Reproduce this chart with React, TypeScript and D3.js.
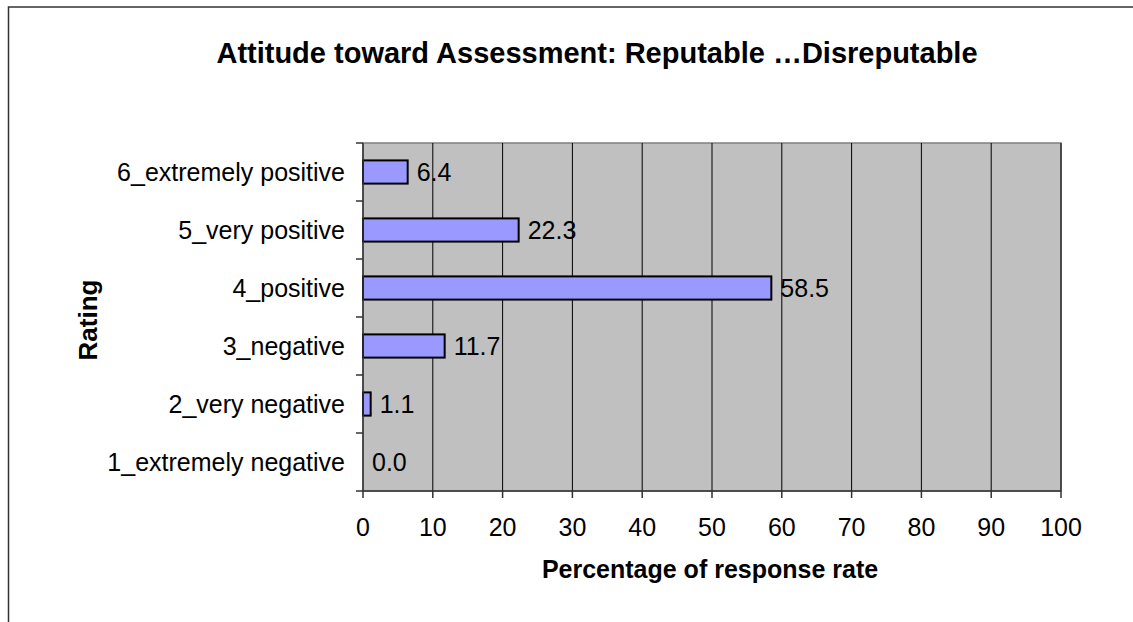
import React from "react";
import * as d3 from "d3";

const categories = [
  "6_extremely positive",
  "5_very positive",
  "4_positive",
  "3_negative",
  "2_very negative",
  "1_extremely negative",
];
const values = [6.4, 22.3, 58.5, 11.7, 1.1, 0.0];
const xTicks = [0, 10, 20, 30, 40, 50, 60, 70, 80, 90, 100];
const title = "Attitude toward Assessment: Reputable \u2026Disreputable";
const xTitle = "Percentage of response rate";
const yTitle = "Rating";

const W = 1133;
const H = 622;
const plot = { left: 363, right: 1061, top: 143, bottom: 491 };
const FONT = "'Liberation Sans', Arial, sans-serif";

export default function App() {
  const x = d3.scaleLinear().domain([0, 100]).range([plot.left, plot.right]);
  const y = d3
    .scaleBand<string>()
    .domain(categories)
    .range([plot.top, plot.bottom])
    .paddingInner(0.6)
    .paddingOuter(0.3);
  const step = (plot.bottom - plot.top) / categories.length;
  const bounds = d3.range(categories.length + 1).map((i) => plot.top + i * step);

  return (
    <svg
      width={W}
      height={H}
      style={{ position: "absolute", left: 0, top: 0, background: "#fff" }}
      fontFamily={FONT}
    >
      <rect x={8.5} y={7} width={W + 20} height={H + 20} fill="#fff" stroke="#333" strokeWidth={1.5} />
      <text x={597} y={63} textAnchor="middle" fontSize={29} fontWeight="bold">
        {title}
      </text>
      <rect
        x={plot.left}
        y={plot.top}
        width={plot.right - plot.left}
        height={plot.bottom - plot.top}
        fill="#c0c0c0"
        stroke="#808080"
        strokeWidth={1.5}
      />
      {xTicks.slice(1).map((t) => (
        <line key={t} x1={x(t)} x2={x(t)} y1={plot.top} y2={plot.bottom} stroke="#000" strokeWidth={1} />
      ))}
      {categories.map((c, i) => (
        <g key={c}>
          <rect
            x={x(0)}
            y={y(c)!}
            width={x(values[i]) - x(0)}
            height={y.bandwidth()}
            fill="#9999ff"
            stroke="#000"
            strokeWidth={2}
          />
          <text
            x={x(values[i]) + 9}
            y={y(c)! + y.bandwidth() / 2}
            dominantBaseline="central"
            fontSize={25}
          >
            {values[i].toFixed(1)}
          </text>
          <text
            x={345}
            y={y(c)! + y.bandwidth() / 2}
            dominantBaseline="central"
            textAnchor="end"
            fontSize={25}
          >
            {c}
          </text>
        </g>
      ))}
      <line x1={plot.left} x2={plot.left} y1={plot.top} y2={plot.bottom} stroke="#333" strokeWidth={1.5} />
      <line x1={plot.left} x2={plot.right} y1={plot.bottom} y2={plot.bottom} stroke="#333" strokeWidth={1.5} />
      {bounds.map((b, i) => (
        <line key={i} x1={356} x2={plot.left} y1={b} y2={b} stroke="#333" strokeWidth={1.5} />
      ))}
      {xTicks.map((t) => (
        <g key={t}>
          <line x1={x(t)} x2={x(t)} y1={plot.bottom} y2={plot.bottom + 7} stroke="#333" strokeWidth={1.5} />
          <text x={x(t)} y={536} textAnchor="middle" fontSize={25}>
            {t}
          </text>
        </g>
      ))}
      <text x={710} y={578} textAnchor="middle" fontSize={25} fontWeight="bold">
        {xTitle}
      </text>
      <text
        transform={`translate(97,320) rotate(-90)`}
        textAnchor="middle"
        fontSize={26}
        fontWeight="bold"
      >
        {yTitle}
      </text>
    </svg>
  );
}
